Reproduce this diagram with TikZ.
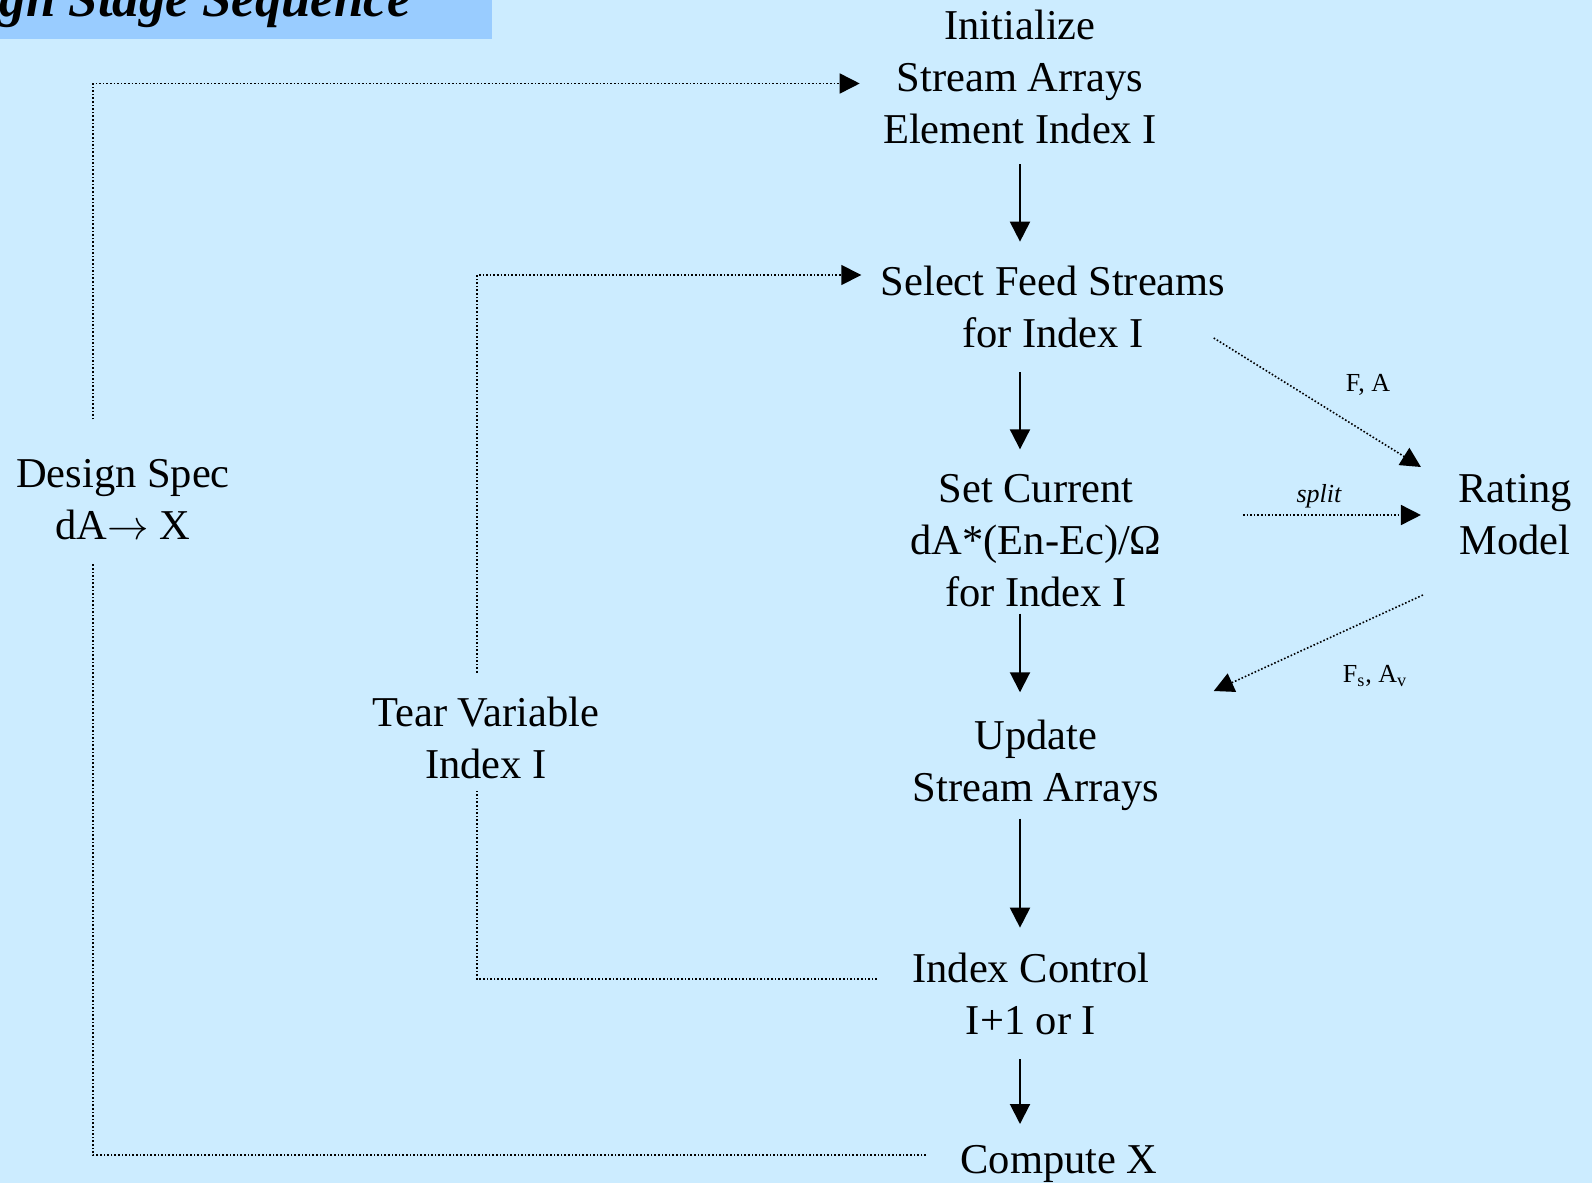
\documentclass[tikz,border=0pt]{standalone}
\usepackage{fontspec}
\setmainfont{Liberation Serif}
\usetikzlibrary{arrows.meta}
\definecolor{slidebg}{HTML}{CCECFF}
\definecolor{titlebar}{HTML}{99CCFF}

\begin{document}
\begin{tikzpicture}[x=0.5pt, y=-0.5pt,
    txt/.style={inner sep=0pt, align=center, font=\fontsize{21.25}{26}\selectfont},
    lbl/.style={inner sep=0pt, font=\fontsize{13}{15}\selectfont},
    line/.style={draw=black, line width=1pt, -{Triangle[length=10pt, width=10pt]}},
    feed/.style={draw=black, line width=0.8pt, densely dotted},
    tip/.style={-{Triangle[length=10pt, width=10pt]}}
]
    % Slide background and title bar
    \fill[slidebg] (0,0) rectangle (1592,1183);
    \useasboundingbox (0,0) rectangle (1592,1183);
    \clip (0,0) rectangle (1592,1183);
    \fill[titlebar] (0,0) rectangle (492,39);
    \node[anchor=base east, inner sep=0pt, font=\fontsize{26.4}{30}\selectfont\bfseries\itshape] (title) at (411,17) {Design Stage Sequence};

    % Main sequence
    \node[txt] (init) at (1020,77) {Initialize\\Stream Arrays\\Element Index I};
    \node[txt] (sel) at (1053,307) {Select Feed Streams\\for Index I};
    \node[txt] (set) at (1036,541) {Set Current\\dA*(En-Ec)/Ω\\for Index I};
    \node[txt] (upd) at (1036,765) {Update\\Stream Arrays};
    \node[txt] (idx) at (1031,994) {Index Control\\I+1 or I};
    \node[txt] (cmp) at (1059,1164) {Compute X};

    % Side blocks
    \node[txt] (rate) at (1515,515) {Rating\\Model};
    \node[txt] (spec) at (123,500) {Design Spec\\dA$\rightarrow$ X};
    \node[txt] (tear) at (486,738) {Tear Variable\\Index I};

    % Flow arrows
    \draw[line, shorten <=10pt, shorten >=12pt] (init.south) -- (init.south |- sel.north);
    \draw[line, shorten <=12pt, shorten >=12.5pt] (init.south |- sel.south) -- (init.south |- set.north);
    \draw[line, shorten <=3pt, shorten >=13.5pt] (init.south |- set.south) -- (init.south |- upd.north);
    \draw[line, shorten <=4pt, shorten >=12.5pt] (init.south |- upd.south) -- (init.south |- idx.north);
    \draw[line, shorten <=12pt, shorten >=10.5pt] (init.south |- idx.south) -- (init.south |- cmp.north);

    % Outer loops (dotted)
    \draw[feed, tip] ([xshift=-15pt,yshift=20pt]spec.north) |- ([xshift=-11.5pt,yshift=-3.25pt]init.west);
    \draw[feed] ([xshift=-17pt,yshift=4.5pt]cmp.west) -| ([xshift=-15pt,yshift=-11.5pt]spec.south);
    \draw[feed, tip] ([xshift=-4.5pt,yshift=12pt]tear.north) |- ([xshift=-9.5pt,yshift=16pt]sel.west);
    \draw[feed] ([xshift=-17.5pt,yshift=7.5pt]idx.west) -| ([xshift=-4.5pt,yshift=-6pt]tear.south);

    % Rating model links
    \draw[feed, tip] ([xshift=-6pt,yshift=-15.5pt]sel.east) -- ([xshift=-18.5pt,yshift=24pt]rate.west);
    \draw[feed, tip] ([xshift=40.5pt,yshift=13pt]set.east) -- ([xshift=-18.5pt]rate.west);
    \draw[feed, tip] ([xshift=-17.5pt,yshift=-40pt]rate.west) -- ([xshift=27pt,yshift=37pt]upd.east);
    \node[lbl] (fa) at (1368,385) {F, A};
    \node[lbl, font=\fontsize{13}{15}\selectfont\itshape] (split) at (1319,496) {split};
    \node[lbl] (fsav) at (1375,676) {F\textsubscript{s}, A\textsubscript{v}};
\end{tikzpicture}
\end{document}
